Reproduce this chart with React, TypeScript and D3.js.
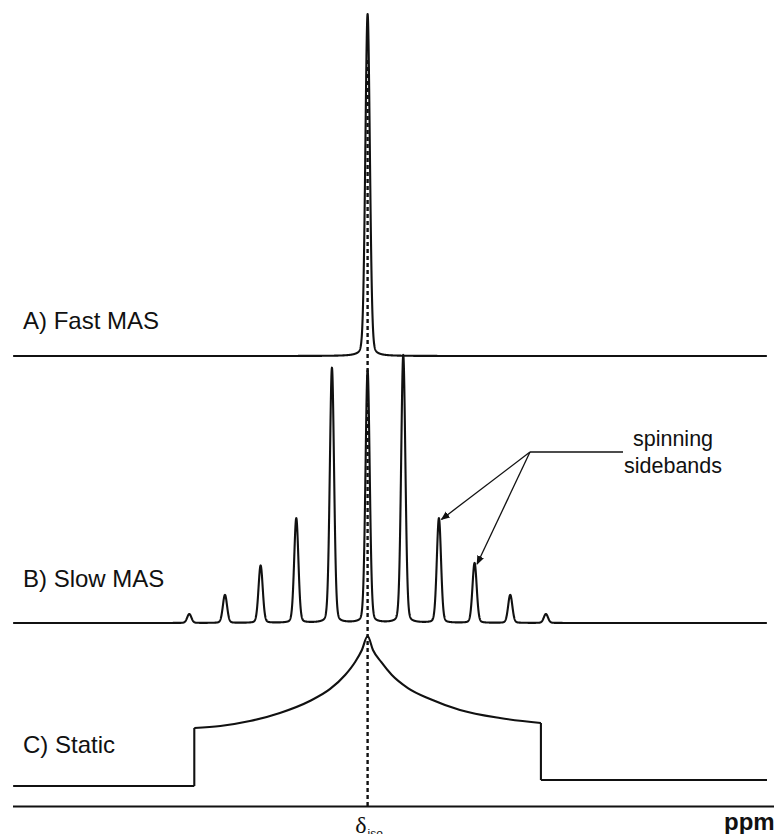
import React from "react";
import * as d3 from "d3";

// ---- data ----
const panelLabels = ["A) Fast MAS", "B) Slow MAS", "C) Static"];
// ppm domain (NMR: high ppm on the left)
const ppmDomain = [100, -112];
const isoShift = 0;
// A) fast MAS: single isotropic line
const fastPeakPos = [0];
const fastPeakHeight = [1.0];
// B) slow MAS: centre band + spinning sidebands (ppm, relative height)
const slowPeakPos = [50, 40, 30, 20, 10, 0, -10, -20, -30, -40, -50];
const slowPeakHeight = [0.035, 0.11, 0.225, 0.41, 1.0, 0.99, 1.05, 0.41, 0.235, 0.11, 0.035];
// C) static powder pattern (ppm, relative intensity)
const staticLeftPpm = [99.4, 48.6];
const staticLeftInt = [0, 0];
const staticCurvePpm = [48.6, 41.3, 33.0, 24.6, 16.2, 10.5, 6.3, 3.5, 1.6, 0, -1.5, -3.8, -6.8, -11.3, -17.5, -25.9, -37.1, -48.6];
const staticCurveInt = [0.387, 0.4, 0.433, 0.487, 0.567, 0.647, 0.74, 0.827, 0.907, 1.0, 0.907, 0.827, 0.74, 0.653, 0.58, 0.507, 0.453, 0.42];
const staticRightPpm = [-48.6, -112];
const staticRightInt = [0.04, 0.04];
const arrowTargets = [-20, -30];
const annotation = ["spinning", "sidebands"];
const axisUnit = "ppm";

const W = 774;
const H = 834;

function spectrum(pos: number[], hts: number[], fwhm: number, eta: number) {
  const pts: [number, number][] = [];
  const g = fwhm / 2;
  for (let p = ppmDomain[0] - 0.6; p >= ppmDomain[1]; p -= 0.04) {
    let v = 0;
    for (let i = 0; i < pos.length; i++) {
      const d = p - pos[i];
      const L = 1 / (1 + (d / g) * (d / g));
      const G = Math.exp((-4 * Math.LN2 * d * d) / (fwhm * fwhm));
      v += hts[i] * (eta * L + (1 - eta) * G);
    }
    pts.push([p, v]);
  }
  return pts;
}

export default function App() {
  const x = d3.scaleLinear().domain(ppmDomain).range([11, 767]);
  const yA = d3.scaleLinear().domain([0, 1]).range([356, 14]);
  const yB = d3.scaleLinear().domain([0, 1]).range([623, 368]);
  const yC = d3.scaleLinear().domain([0, 1]).range([786, 636]);

  const specA = spectrum(fastPeakPos, fastPeakHeight, 1.5, 0.15);
  const specB = spectrum(slowPeakPos, slowPeakHeight, 1.4, 0.15);

  const lineA = d3.line<[number, number]>().x((d) => x(d[0])).y((d) => yA(d[1]));
  const lineB = d3.line<[number, number]>().x((d) => x(d[0])).y((d) => yB(d[1]));
  const lineCLin = d3.line<[number, number]>().x((d) => x(d[0])).y((d) => yC(d[1]));
  const lineCCurve = d3
    .line<[number, number]>()
    .x((d) => x(d[0]))
    .y((d) => yC(d[1]))
    .curve(d3.curveMonotoneX);

  const cLeft = staticLeftPpm.map((p, i) => [p, staticLeftInt[i]] as [number, number]);
  const cCurve = staticCurvePpm.map((p, i) => [p, staticCurveInt[i]] as [number, number]);
  const cRight = staticRightPpm.map((p, i) => [p, staticRightInt[i]] as [number, number]);
  const leftEdge: [number, number][] = [cLeft[1], cCurve[0]];
  const rightEdge: [number, number][] = [cCurve[cCurve.length - 1], cRight[0]];

  const xIso = x(isoShift);
  const elbow = { x: 530, y: 452 };
  const textX = 673;

  const labelFont = "Liberation Sans, Arial, sans-serif";

  return (
    <svg
      width={W}
      height={H}
      style={{ position: "absolute", left: 0, top: 0, display: "block", background: "#fff" }}
    >
      <defs>
        <marker id="arr" viewBox="0 0 10 10" refX="9" refY="5" markerWidth="7" markerHeight="7" orient="auto">
          <path d="M0,1 L10,5 L0,9 z" fill="#111" />
        </marker>
      </defs>
      <rect width={W} height={H} fill="#fff" />
      {/* spectra */}
      <g fill="none" stroke="#111" strokeWidth={2.1} strokeLinejoin="round">
        <path d={lineA(specA) || ""} />
        <path d={lineB(specB) || ""} />
        <path d={lineCLin(cLeft) || ""} />
        <path d={lineCLin(leftEdge) || ""} />
        <path d={lineCCurve(cCurve) || ""} />
        <path d={lineCLin(rightEdge) || ""} />
        <path d={lineCLin(cRight) || ""} />
      </g>
      {/* isotropic shift dashed line */}
      <line x1={xIso} x2={xIso} y1={60} y2={806} stroke="#111" strokeWidth={2.4} strokeDasharray="4,3" />
      {/* axis */}
      <line x1={13} x2={774} y1={806.5} y2={806.5} stroke="#111" strokeWidth={2} />
      {/* panel labels */}
      <g fontFamily={labelFont} fontSize={24} fill="#111">
        <text x={23} y={329}>{panelLabels[0]}</text>
        <text x={23} y={587}>{panelLabels[1]}</text>
        <text x={23} y={753}>{panelLabels[2]}</text>
      </g>
      {/* annotation */}
      <g fontFamily={labelFont} fontSize={21.5} fill="#111" textAnchor="middle">
        <text x={textX} y={446}>{annotation[0]}</text>
        <text x={textX} y={473}>{annotation[1]}</text>
      </g>
      <g stroke="#111" strokeWidth={1.3} fill="none">
        <line x1={elbow.x} y1={elbow.y} x2={623} y2={elbow.y} />
        {arrowTargets.map((p, i) => {
          const idx = slowPeakPos.indexOf(p);
          return (
            <line
              key={i}
              x1={elbow.x}
              y1={elbow.y}
              x2={x(p) + 2.5}
              y2={yB(slowPeakHeight[idx]) + 1}
              markerEnd="url(#arr)"
            />
          );
        })}
      </g>
      {/* delta iso */}
      <text x={xIso - 1} y={833} textAnchor="end" fontFamily="Liberation Serif, Times New Roman, serif" fontSize={24} fill="#111">
        δ
      </text>
      <text x={xIso} y={838} fontFamily={labelFont} fontSize={12} fill="#111">iso</text>
      <text x={724} y={830} fontFamily={labelFont} fontWeight="bold" fontSize={24} fill="#111">
        {axisUnit}
      </text>
    </svg>
  );
}
